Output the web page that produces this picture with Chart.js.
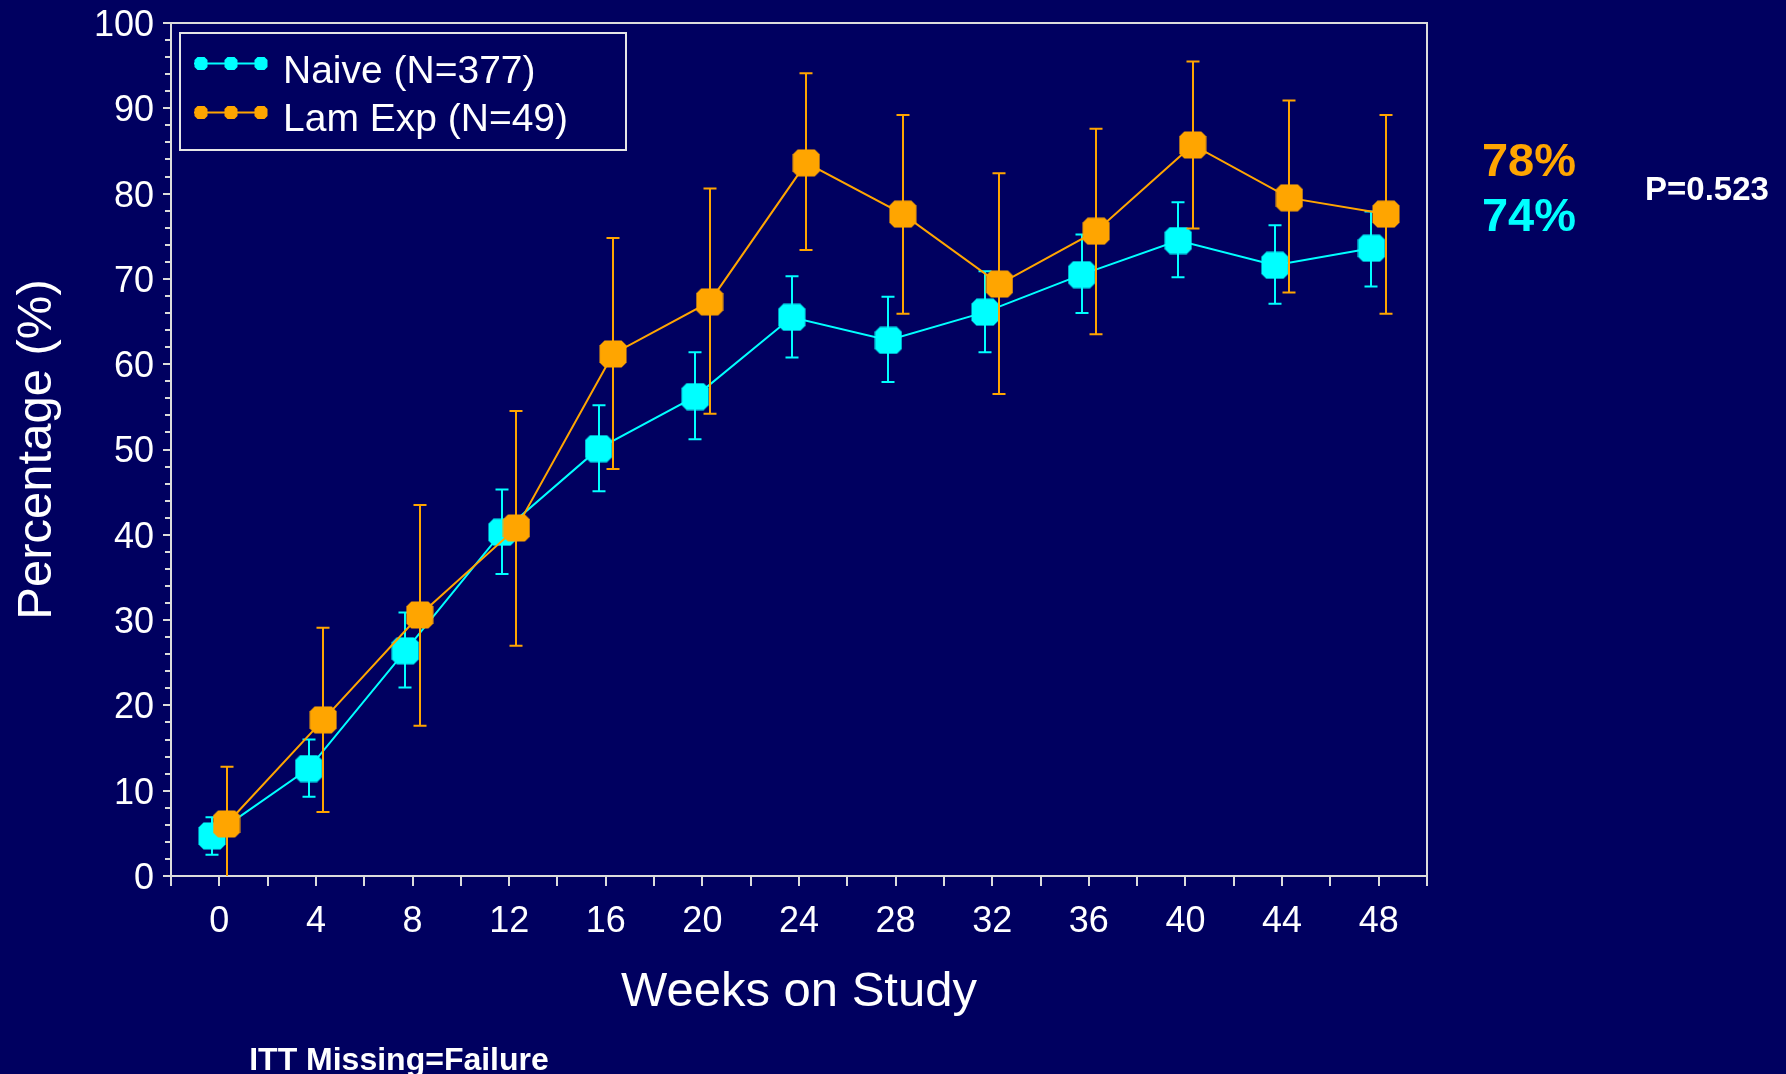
<!DOCTYPE html>
<html><head><meta charset="utf-8">
<script src="https://cdn.jsdelivr.net/npm/chart.js@4.4.0/dist/chart.umd.min.js"></script>
<style>html,body{margin:0;padding:0;background:#000060;overflow:hidden}#wrap{width:1786px;height:1074px;position:relative}</style>
</head><body><div id="wrap"><canvas id="c" width="1786" height="1074"></canvas></div>
<script>
// ---- data ----
const weeks = [0, 4, 8, 12, 16, 20, 24, 28, 32, 36, 40, 44, 48];
const seriesLabels = ['Naive (N=377)', 'Lam Exp (N=49)'];
const naive     = [4.7, 12.6, 26.4, 40.3, 50.1, 56.2, 65.5, 62.8, 66.1, 70.5, 74.5, 71.6, 73.6];
const naiveLow  = [2.5,  9.3, 22.1, 35.4, 45.1, 51.2, 60.8, 57.9, 61.4, 66.0, 70.2, 67.1, 69.1];
const naiveHigh = [6.9, 16.0, 30.9, 45.3, 55.2, 61.4, 70.3, 67.9, 70.9, 75.2, 79.0, 76.3, 77.9];
const lam       = [6.1, 18.3, 30.6, 40.8, 61.2, 67.3, 83.6, 77.6, 69.4, 75.6, 85.7, 79.5, 77.6];
const lamLow    = [0.0,  7.5, 17.6, 27.0, 47.7, 54.2, 73.4, 65.9, 56.5, 63.5, 75.9, 68.4, 65.9];
const lamHigh   = [12.8, 29.1, 43.5, 54.5, 74.8, 80.6, 94.1, 89.2, 82.4, 87.6, 95.5, 90.9, 89.2];
const finalLabels = ['78%', '74%'];
const pValueLabel = 'P=0.523';
const footnote = 'ITT Missing=Failure';
const xTitle = 'Weeks on Study';
const yTitle = 'Percentage (%)';

// ---- styling ----
const FONT = '"Liberation Sans", Arial, Helvetica, sans-serif';
const BG = '#000060';
const FRAME = '#dcdcdc';
const CYAN = '#00FFFF';
const ORANGE = '#FFA500';
const OFFSET = 0.3; // horizontal dodge in weeks

function pts(vals, off) { return weeks.map((w, i) => ({ x: w + off, y: vals[i] })); }

function octPath(c, cx, cy, a, b) {
  c.beginPath();
  c.moveTo(cx - a, cy - b); c.lineTo(cx + a, cy - b);
  c.lineTo(cx + b, cy - a); c.lineTo(cx + b, cy + a);
  c.lineTo(cx + a, cy + b); c.lineTo(cx - a, cy + b);
  c.lineTo(cx - b, cy + a); c.lineTo(cx - b, cy - a);
  c.closePath();
}
function octImage(color) {
  const cv = document.createElement('canvas');
  cv.width = 28; cv.height = 28;
  const c = cv.getContext('2d');
  c.fillStyle = color;
  octPath(c, 14, 14, 8.5, 13.5);
  c.fill();
  return cv;
}

const bgPlugin = {
  id: 'bg',
  beforeDraw(chart) {
    const c = chart.ctx; c.save(); c.fillStyle = BG; c.fillRect(0, 0, chart.width, chart.height); c.restore();
  }
};

const errorBars = {
  id: 'errorBars',
  beforeDatasetDraw(chart, args) {
    const ds = chart.data.datasets[args.index];
    const xs = chart.scales.x, ys = chart.scales.y, c = chart.ctx;
    c.save();
    c.strokeStyle = ds.borderColor; c.lineWidth = 2;
    ds.data.forEach((p, i) => {
      const x = Math.round(xs.getPixelForValue(p.x));
      const yl = ys.getPixelForValue(ds.low[i]);
      const yh = ys.getPixelForValue(ds.high[i]);
      c.beginPath();
      c.moveTo(x, yl); c.lineTo(x, yh);
      c.moveTo(x - 6.5, yh); c.lineTo(x + 6.5, yh);
      if (ds.low[i] > 0) { c.moveTo(x - 6.5, yl); c.lineTo(x + 6.5, yl); }
      c.stroke();
    });
    c.restore();
  }
};

const decor = {
  id: 'decor',
  afterDraw(chart) {
    const c = chart.ctx, a = chart.chartArea;
    c.save();
    // top & right frame
    c.strokeStyle = FRAME; c.lineWidth = 2;
    c.beginPath(); c.moveTo(a.left, a.top); c.lineTo(a.right, a.top); c.lineTo(a.right, a.bottom); c.stroke();
    // legend
    c.strokeStyle = '#e6e6e6'; c.lineWidth = 2;
    c.strokeRect(180, 33, 446, 117);
    const rowsM = [63.5, 112.5], rowsT = [83, 131];
    chart.data.datasets.forEach((ds, i) => {
      c.strokeStyle = ds.borderColor; c.fillStyle = ds.borderColor; c.lineWidth = 2;
      c.beginPath(); c.moveTo(194, rowsM[i]); c.lineTo(267, rowsM[i]); c.stroke();
      [201, 231, 261].forEach(mx => { octPath(c, mx, rowsM[i], 3.5, 6.5); c.fill(); });
      c.fillStyle = '#ffffff'; c.font = '39px ' + FONT; c.textAlign = 'left'; c.textBaseline = 'alphabetic';
      c.fillText(ds.label, 283, rowsT[i]);
    });
    // final values & p value
    c.textAlign = 'center'; c.textBaseline = 'alphabetic';
    c.font = 'bold 47px ' + FONT;
    c.fillStyle = ORANGE; c.fillText(finalLabels[0], 1529, 176);
    c.fillStyle = CYAN; c.fillText(finalLabels[1], 1529, 231);
    c.font = 'bold 33px ' + FONT; c.fillStyle = '#ffffff';
    c.fillText(pValueLabel, 1707, 200);
    c.font = 'bold 32px ' + FONT;
    c.fillText(footnote, 399, 1070);
    c.restore();
  }
};

new Chart(document.getElementById('c'), {
  type: 'line',
  data: {
    datasets: [
      { label: seriesLabels[0], data: pts(naive, -OFFSET), low: naiveLow, high: naiveHigh,
        borderColor: CYAN, backgroundColor: CYAN, pointStyle: octImage(CYAN),
        borderWidth: 2, pointRadius: 14, tension: 0, order: 2 },
      { label: seriesLabels[1], data: pts(lam, OFFSET), low: lamLow, high: lamHigh,
        borderColor: ORANGE, backgroundColor: ORANGE, pointStyle: octImage(ORANGE),
        borderWidth: 2, pointRadius: 14, tension: 0, order: 1 }
    ]
  },
  options: {
    responsive: false, animation: false, devicePixelRatio: 1,
    layout: { padding: { left: 0, top: 23, right: 359, bottom: 48 } },
    plugins: { legend: { display: false }, tooltip: { enabled: false } },
    scales: {
      x: {
        type: 'linear', min: -2, max: 50,
        ticks: { stepSize: 2, autoSkip: false, maxRotation: 0, color: '#ffffff', padding: 14,
          font: { family: FONT, size: 36 },
          callback: v => (v % 4 === 0 && v >= 0 && v <= 48) ? String(v) : '' },
        grid: { drawOnChartArea: false, drawTicks: true, tickLength: 10, color: FRAME, lineWidth: 2 },
        border: { display: true, color: FRAME, width: 2 },
        title: { display: true, text: xTitle, color: '#ffffff', font: { family: FONT, size: 49 }, padding: { top: 0, bottom: 4 } },
        afterFit: s => { s.height = 150; s.paddingLeft = 0; s.paddingRight = 0; }
      },
      y: {
        min: 0, max: 100,
        ticks: { stepSize: 2, autoSkip: false, color: '#ffffff', padding: 9, labelOffset: 3,
          font: { family: FONT, size: 36 },
          callback: v => (v % 10 === 0) ? String(v) : '' },
        grid: { drawOnChartArea: false, drawTicks: true, tickLength: 8, color: FRAME, lineWidth: 2,
          tickBorderDash: ctx => (ctx.tick && ctx.tick.value % 10 === 0) ? [] : [0, 2, 6, 100] },
        border: { display: true, color: FRAME, width: 2 },
        title: { display: true, text: yTitle, color: '#ffffff', font: { family: FONT, size: 49 }, padding: { top: 8, bottom: 0 } },
        afterFit: s => { s.width = 171; s.paddingTop = 0; s.paddingBottom = 0; }
      }
    }
  },
  plugins: [bgPlugin, errorBars, decor]
});
</script></body></html>
